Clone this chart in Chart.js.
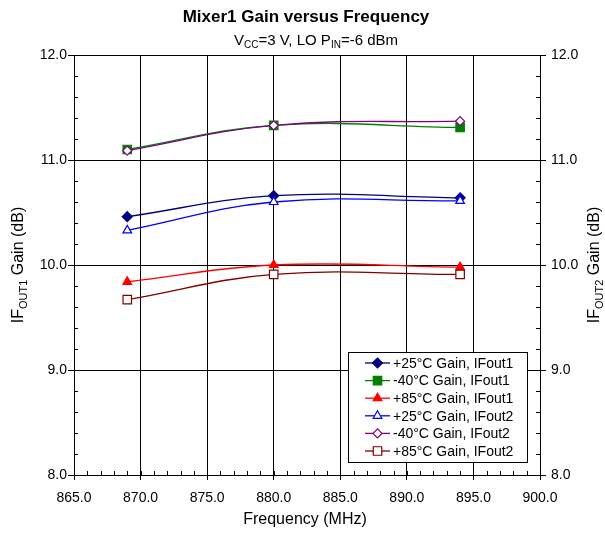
<!DOCTYPE html>
<html>
<head>
<meta charset="utf-8">
<script src="https://cdn.jsdelivr.net/npm/chart.js@4"></script>
<style>
  body { margin: 0; background: #fff; }
  canvas { display: block; }
</style>
</head>
<body>
<canvas id="gainChart" width="605" height="534"></canvas>
<script>
// Data
const freqs = [869, 880, 894];
const gain25Out1 = [10.46, 10.66, 10.64];
const gainM40Out1 = [11.10, 11.33, 11.31];
const gain85Out1 = [9.84, 10.00, 9.98];
const gain25Out2 = [10.33, 10.60, 10.61];
const gainM40Out2 = [11.09, 11.33, 11.37];
const gain85Out2 = [9.67, 9.91, 9.91];
const seriesLabels = [
    '+25°C Gain, IFout1',
    '-40°C Gain, IFout1',
    '+85°C Gain, IFout1',
    '+25°C Gain, IFout2',
    '-40°C Gain, IFout2',
    '+85°C Gain, IFout2'
];

const FONT = '"Liberation Sans", Arial, sans-serif';

function points(ys) {
    return freqs.map((f, i) => ({ x: f, y: ys[i] }));
}

// line dataset helper
function series(idx, ys, color, style, filled, radius) {
    return {
        label: seriesLabels[idx],
        data: points(ys),
        borderColor: color,
        backgroundColor: filled ? color : '#ffffff',
        pointBackgroundColor: filled ? color : '#ffffff',
        pointBorderColor: color,
        pointStyle: style,
        pointRadius: radius,
        pointBorderWidth: 1.2,
        borderWidth: 1.3,
        tension: 0.4,
        fill: false,
        order: 6 - idx
    };
}

// draw text made of pieces, some as subscripts
function drawRich(ctx, parts, size, x, y) {
    const subSize = Math.round(size * 0.68);
    let total = 0;
    parts.forEach(p => {
        ctx.font = (p.sub ? subSize : size) + 'px ' + FONT;
        p.w = ctx.measureText(p.t).width;
        total += p.w;
    });
    let cx = x - total / 2;
    ctx.textAlign = 'left';
    ctx.textBaseline = 'alphabetic';
    parts.forEach(p => {
        ctx.font = (p.sub ? subSize : size) + 'px ' + FONT;
        ctx.fillText(p.t, cx, p.sub ? y + size * 0.22 : y);
        cx += p.w;
    });
}

const decorPlugin = {
    id: 'decor',
    afterDraw(chart) {
        const ctx = chart.ctx;
        const area = chart.chartArea;
        const xs = chart.scales.x;
        const ys = chart.scales.y;
        ctx.save();
        ctx.fillStyle = '#000';

        // titles
        ctx.font = 'bold 17px ' + FONT;
        ctx.textAlign = 'center';
        ctx.textBaseline = 'alphabetic';
        ctx.fillText('Mixer1 Gain versus Frequency', 306, 22);
        drawRich(ctx, [{ t: 'V' }, { t: 'CC', sub: true }, { t: '=3 V, LO P' }, { t: 'IN', sub: true }, { t: '=-6 dBm' }], 15, 316, 45);

        ctx.font = '16px ' + FONT;
        ctx.textAlign = 'center';
        ctx.fillText('Frequency (MHz)', 305, 524);

        ctx.save();
        ctx.translate(23, (area.top + area.bottom) / 2);
        ctx.rotate(-Math.PI / 2);
        drawRich(ctx, [{ t: 'IF' }, { t: 'OUT1', sub: true }, { t: ' Gain (dB)' }], 16, 0, 0);
        ctx.restore();

        ctx.save();
        ctx.translate(599, (area.top + area.bottom) / 2);
        ctx.rotate(-Math.PI / 2);
        drawRich(ctx, [{ t: 'IF' }, { t: 'OUT2', sub: true }, { t: ' Gain (dB)' }], 16, 0, 0);
        ctx.restore();

        // minor ticks, inside the plot area
        ctx.strokeStyle = '#000';
        ctx.lineWidth = 1;
        ctx.beginPath();
        for (let v = 865; v <= 900; v += 1) {
            const px = Math.round(xs.getPixelForValue(v)) + 0.5;
            ctx.moveTo(px, area.bottom);
            ctx.lineTo(px, area.bottom - 4);
        }
        for (let k = 0; k <= 20; k++) {
            const py = Math.round(ys.getPixelForValue(8 + k * 0.2)) + 0.5;
            ctx.moveTo(area.left, py);
            ctx.lineTo(area.left + 4, py);
            ctx.moveTo(area.right, py);
            ctx.lineTo(area.right - 4, py);
        }
        ctx.stroke();

        // legend box
        const lx = 348, ly = 352, lw = 179, lh = 110;
        ctx.fillStyle = '#fff';
        ctx.fillRect(lx, ly, lw, lh);
        ctx.strokeStyle = '#000';
        ctx.strokeRect(lx + 0.5, ly + 0.5, lw, lh);
        const sets = chart.data.datasets;
        sets.forEach((ds, i) => {
            const rowY = 363 + i * 17.6;
            ctx.strokeStyle = ds.borderColor;
            ctx.lineWidth = 1.3;
            ctx.beginPath();
            ctx.moveTo(365, rowY);
            ctx.lineTo(390, rowY);
            ctx.stroke();
            ctx.fillStyle = ds.pointBackgroundColor;
            ctx.lineWidth = 1.2;
            Chart.helpers.drawPoint(ctx, {
                pointStyle: ds.pointStyle,
                radius: ds.pointRadius,
                rotation: 0,
                borderWidth: 1.2
            }, 377.5, rowY);
            ctx.fillStyle = '#000';
            ctx.font = '14px ' + FONT;
            ctx.textAlign = 'left';
            ctx.textBaseline = 'middle';
            ctx.fillText(ds.label, 393, rowY + 1);
        });
        ctx.restore();
    }
};

const tickFont = { family: FONT, size: 14 };

new Chart(document.getElementById('gainChart').getContext('2d'), {
    type: 'line',
    data: {
        datasets: [
            series(0, gain25Out1, '#000080', 'rectRot', true, 5),
            series(1, gainM40Out1, '#008000', 'rect', true, 6),
            series(2, gain85Out1, '#ff0000', 'triangle', true, 5),
            series(3, gain25Out2, '#0000ff', 'triangle', false, 5),
            series(4, gainM40Out2, '#800080', 'rectRot', false, 4.5),
            series(5, gain85Out2, '#800000', 'rect', false, 6)
        ]
    },
    options: {
        responsive: false,
        animation: false,
        devicePixelRatio: 1,
        layout: { padding: { top: 55, left: 0, right: 0, bottom: 0 } },
        plugins: {
            legend: { display: false },
            title: { display: false },
            tooltip: { enabled: false }
        },
        scales: {
            x: {
                type: 'linear',
                min: 865,
                max: 900,
                afterFit: s => { s.height = 59; },
                ticks: {
                    stepSize: 5,
                    color: '#000',
                    font: tickFont,
                    padding: 10,
                    maxRotation: 0,
                    callback: v => v.toFixed(1)
                },
                grid: { color: '#000', lineWidth: 1, tickLength: 5 },
                border: { color: '#000', width: 1 }
            },
            y: {
                position: 'left',
                min: 8,
                max: 12,
                afterFit: s => { s.width = 74; },
                ticks: {
                    stepSize: 1,
                    color: '#000',
                    font: tickFont,
                    padding: 1,
                    callback: v => v.toFixed(1)
                },
                grid: { color: '#000', lineWidth: 1, tickLength: 6 },
                border: { color: '#000', width: 1 }
            },
            y2: {
                position: 'right',
                min: 8,
                max: 12,
                afterFit: s => { s.width = 65; },
                ticks: {
                    stepSize: 1,
                    color: '#000',
                    font: tickFont,
                    padding: 5,
                    callback: v => v.toFixed(1)
                },
                grid: { drawOnChartArea: false, color: '#000', lineWidth: 1, tickLength: 6 },
                border: { color: '#000', width: 1 }
            }
        }
    },
    plugins: [decorPlugin]
});
</script>
</body>
</html>
